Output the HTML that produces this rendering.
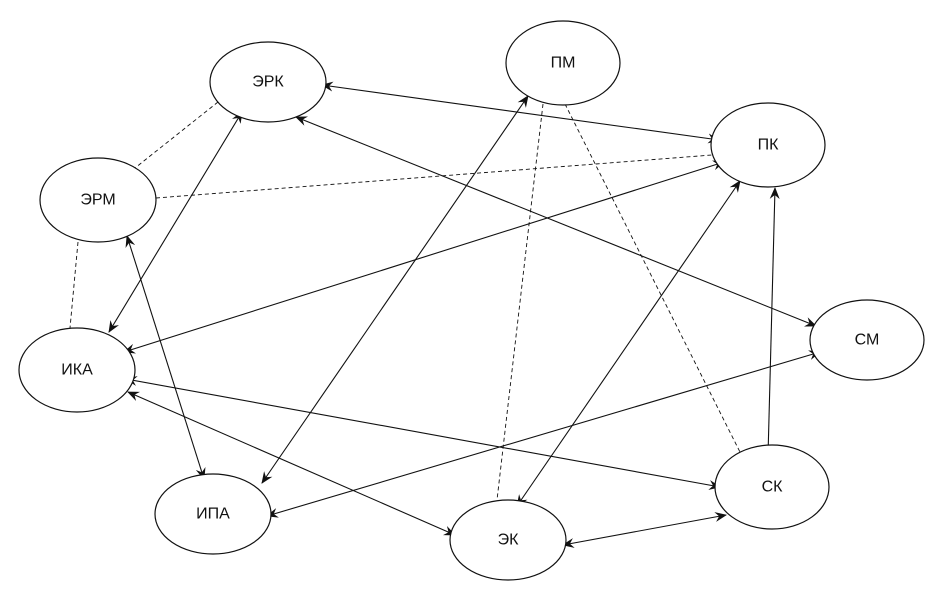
<!DOCTYPE html>
<html><head><meta charset="utf-8"><style>
html,body{margin:0;padding:0;background:#fff;}
svg{display:block;}
text{font-family:"Liberation Sans",sans-serif;font-size:16px;fill:#111;text-anchor:middle;dominant-baseline:central;}
</style></head><body>
<svg width="944" height="591" viewBox="0 0 944 591" xmlns="http://www.w3.org/2000/svg">
<defs>
<marker id="a" markerWidth="12" markerHeight="10" refX="11" refY="5" orient="auto-start-reverse" markerUnits="userSpaceOnUse">
<path d="M0,0 L12,5 L0,10 L4,5 Z" fill="#111"/>
</marker>
</defs>
<g stroke="#111" stroke-width="1.1" fill="none">
<g marker-start="url(#a)" marker-end="url(#a)">
<line x1="322" y1="85" x2="719" y2="140"/>
<line x1="296" y1="117" x2="816" y2="326"/>
<line x1="242" y1="112" x2="109" y2="332"/>
<line x1="127" y1="236" x2="204" y2="479"/>
<line x1="528" y1="96" x2="262" y2="483"/>
<line x1="724" y1="162" x2="124" y2="352"/>
<line x1="740" y1="181" x2="517" y2="506"/>
<line x1="775" y1="188" x2="768" y2="456"/>
<line x1="820" y1="352" x2="267" y2="516"/>
<line x1="126" y1="379" x2="720" y2="487"/>
<line x1="128" y1="392" x2="455" y2="535"/>
<line x1="563" y1="545" x2="726" y2="515"/>
</g>
<g stroke-dasharray="4,3" stroke-width="0.9">
<line x1="218" y1="102" x2="135" y2="168"/>
<line x1="156" y1="198" x2="712" y2="155"/>
<line x1="78" y1="242" x2="70" y2="328"/>
<line x1="543" y1="104" x2="497" y2="500"/>
<line x1="565" y1="104" x2="745" y2="462"/>
</g>
<g fill="#fff" stroke-width="1.2">
<ellipse cx="268" cy="82" rx="58" ry="40"/>
<ellipse cx="563" cy="63" rx="57" ry="42"/>
<ellipse cx="768" cy="145" rx="57" ry="42"/>
<ellipse cx="98" cy="200" rx="58" ry="42"/>
<ellipse cx="867" cy="340" rx="57" ry="40"/>
<ellipse cx="77" cy="370" rx="58" ry="42"/>
<ellipse cx="772" cy="487" rx="57" ry="42"/>
<ellipse cx="213" cy="514" rx="58" ry="40"/>
<ellipse cx="508" cy="540" rx="58" ry="40"/>
</g>
</g>
<text x="268" y="82">ЭРК</text>
<text x="563" y="63">ПМ</text>
<text x="768" y="145">ПК</text>
<text x="98" y="200">ЭРМ</text>
<text x="867" y="340">СМ</text>
<text x="77" y="370">ИКА</text>
<text x="772" y="487">СК</text>
<text x="213" y="514">ИПА</text>
<text x="508" y="540">ЭК</text>
</svg>
</body></html>
